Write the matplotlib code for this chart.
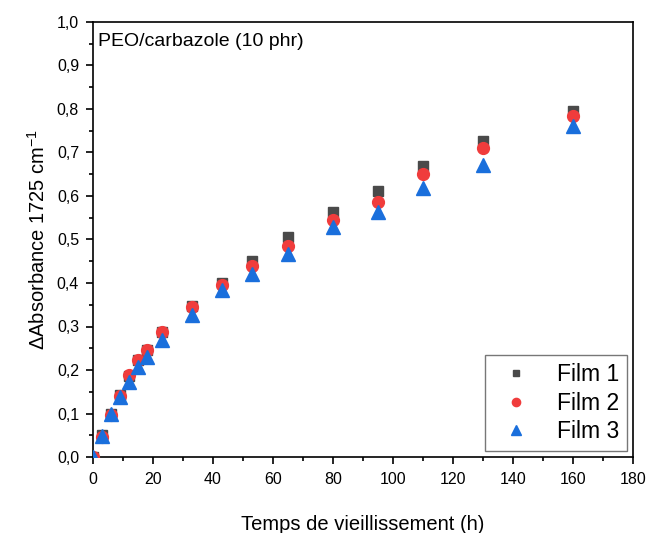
import matplotlib
matplotlib.use("Agg")
import matplotlib.pyplot as plt
from matplotlib.ticker import MultipleLocator, FuncFormatter

plt.rcParams['font.family'] = ['Liberation Sans', 'DejaVu Sans']
plt.rcParams['mathtext.fontset'] = 'custom'
plt.rcParams['mathtext.rm'] = 'Liberation Sans'

time_h = [0, 3, 6, 9, 12, 15, 18, 23, 33, 43, 53, 65, 80, 95, 110, 130, 160]
film1 = [0.0, 0.050, 0.100, 0.142, 0.186, 0.222, 0.245, 0.287, 0.348, 0.400, 0.450, 0.506, 0.564, 0.612, 0.668, 0.727, 0.796]
film2 = [0.0, 0.045, 0.097, 0.140, 0.189, 0.223, 0.245, 0.287, 0.345, 0.395, 0.440, 0.486, 0.545, 0.587, 0.650, 0.710, 0.784]
film3 = [0.0, 0.048, 0.099, 0.139, 0.173, 0.208, 0.229, 0.269, 0.326, 0.383, 0.421, 0.466, 0.529, 0.564, 0.618, 0.671, 0.761]

fig = plt.figure(figsize=(6.51, 5.33), dpi=100)
ax = fig.add_axes([93/651, 1-457/533, 540/651, 435/533])

ax.plot(time_h, film1, linestyle='none', marker='s', markersize=7, color='#4a4a4a', label='Film 1', zorder=3)
ax.plot(time_h, film2, linestyle='none', marker='o', markersize=8.5, color='#f03c3c', label='Film 2', zorder=4)
ax.plot(time_h, film3, linestyle='none', marker='^', markersize=9.5, color='#1a6fdc', label='Film 3', zorder=5)

ax.set_xlim(0, 180)
ax.set_ylim(0, 1.0)
ax.xaxis.set_major_locator(MultipleLocator(20))
ax.xaxis.set_minor_locator(MultipleLocator(10))
ax.yaxis.set_major_locator(MultipleLocator(0.1))
ax.yaxis.set_minor_locator(MultipleLocator(0.05))
ax.yaxis.set_major_formatter(FuncFormatter(lambda v, p: f"{v:.1f}".replace('.', ',')))

ax.tick_params(which='major', direction='out', length=5, width=1.2, labelsize=11.5, top=False, right=False)
ax.tick_params(axis='x', which='major', pad=6)
ax.tick_params(axis='y', which='major', pad=5)
ax.tick_params(which='minor', direction='out', length=3, width=1.2, top=False, right=False)
for s in ax.spines.values():
    s.set_linewidth(1.2)

ax.set_xlabel('Temps de vieillissement (h)', fontsize=14.5, labelpad=20)
ax.set_ylabel('ΔAbsorbance 1725 cm$^{-1}$', fontsize=14.5, labelpad=6)

ax.text(0.01, 0.975, 'PEO/carbazole (10 phr)', transform=ax.transAxes, fontsize=14, va='top', ha='left')

leg = ax.legend(loc='lower right', fontsize=16.5, markerscale=0.7, frameon=True, fancybox=False,
                edgecolor='#555555', handletextpad=0.8, borderaxespad=0.25, labelspacing=0.25,
                handlelength=2.0, borderpad=0.35)
leg.get_frame().set_linewidth(1.0)

fig.savefig('out.png', dpi=100)
